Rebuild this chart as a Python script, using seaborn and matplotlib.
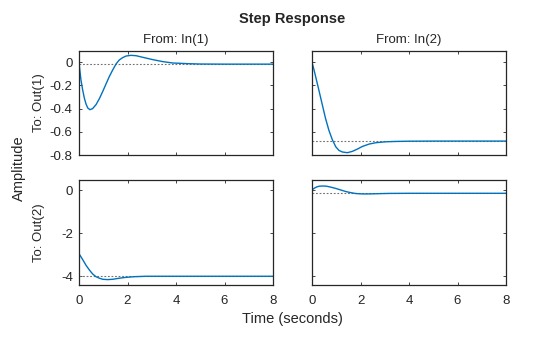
import matplotlib
matplotlib.use("Agg")
import matplotlib.pyplot as plt
import seaborn as sns
import pandas as pd

# ---- step response samples (time in seconds, amplitude) ----
inputs = ["In(1)", "In(2)"]
outputs = ["Out(1)", "Out(2)"]

t_out1_in1 = [0, 0.04, 0.08, 0.15, 0.22, 0.29, 0.36, 0.45, 0.56, 0.70, 0.84, 0.98,
              1.11, 1.25, 1.39, 1.53, 1.66, 1.80, 1.94, 2.14, 2.35, 2.63, 3.04,
              3.45, 3.86, 4.5, 5, 6, 7, 8]
y_out1_in1 = [0, -0.080, -0.151, -0.237, -0.309, -0.360, -0.394, -0.409, -0.400,
              -0.366, -0.314, -0.251, -0.189, -0.123, -0.066, -0.014, 0.020, 0.040,
              0.054, 0.060, 0.057, 0.043, 0.023, 0.006, -0.006, -0.012, -0.015,
              -0.016, -0.016, -0.016]

t_out1_in2 = [0, 0.07, 0.15, 0.29, 0.43, 0.56, 0.70, 0.84, 0.98, 1.11, 1.25, 1.46,
              1.66, 1.87, 2.08, 2.35, 2.63, 3.04, 3.45, 4, 5, 6, 7, 8]
y_out1_in2 = [0, -0.055, -0.123, -0.246, -0.371, -0.486, -0.589, -0.669, -0.729,
              -0.760, -0.774, -0.780, -0.769, -0.749, -0.726, -0.706, -0.694,
              -0.686, -0.683, -0.681, -0.680, -0.680, -0.680, -0.680]

t_out2_in1 = [0, 0.15, 0.29, 0.43, 0.56, 0.70, 0.84, 0.98, 1.18, 1.39, 1.66, 1.94,
              2.28, 2.76, 3.5, 4, 5, 6, 7, 8]
y_out2_in1 = [-2.95, -3.22, -3.49, -3.71, -3.89, -4.02, -4.09, -4.14, -4.155,
              -4.14, -4.09, -4.05, -4.02, -4.00, -4.00, -4.00, -4.00, -4.00,
              -4.00, -4.00]

t_out2_in2 = [0, 0.1, 0.2, 0.3, 0.45, 0.6, 0.8, 1.0, 1.2, 1.4, 1.6, 1.8, 2.0, 2.2,
              2.5, 2.8, 3.2, 4, 5, 6, 7, 8]
y_out2_in2 = [0.02, 0.10, 0.16, 0.19, 0.20, 0.19, 0.14, 0.08, 0.01, -0.06, -0.11,
              -0.15, -0.165, -0.17, -0.165, -0.155, -0.145, -0.14, -0.14, -0.14,
              -0.14, -0.14]

# steady-state values, one per input, for each output
steady_out1 = [-0.016, -0.68]
steady_out2 = [-4.0, -0.14]

x_ticks = [0, 2, 4, 6, 8]
x_tick_labels = ["0", "2", "4", "6", "8"]
y_ticks_out1 = [-0.8, -0.6, -0.4, -0.2, 0]
y_tick_labels_out1 = ["-0.8", "-0.6", "-0.4", "-0.2", "0"]
y_ticks_out2 = [-4, -2, 0]
y_tick_labels_out2 = ["-4", "-2", "0"]

frames = []
for out, inp, t, y in [("Out(1)", "In(1)", t_out1_in1, y_out1_in1),
                       ("Out(1)", "In(2)", t_out1_in2, y_out1_in2),
                       ("Out(2)", "In(1)", t_out2_in1, y_out2_in1),
                       ("Out(2)", "In(2)", t_out2_in2, y_out2_in2)]:
    frames.append(pd.DataFrame({"time": t, "amplitude": y, "output": out, "input": inp}))
data = pd.concat(frames, ignore_index=True)
steady = {("Out(1)", "In(1)"): steady_out1[0], ("Out(1)", "In(2)"): steady_out1[1],
          ("Out(2)", "In(1)"): steady_out2[0], ("Out(2)", "In(2)"): steady_out2[1]}

# ---- styling ----
sns.set_style("ticks")
plt.rcParams["font.family"] = ["Liberation Sans", "DejaVu Sans"]
plt.rcParams["axes.unicode_minus"] = False

W, H = 560, 337
fig = plt.figure(figsize=(W / 100, H / 100), dpi=100)
fig.patch.set_facecolor("white")


def px_box(x0, y0, x1, y1):
    return [x0 / W, 1 - y1 / H, (x1 - x0) / W, (y1 - y0) / H]


col_x = [(79, 273), (312, 506)]
row_y = [(50.7, 155), (180.3, 285.3)]
ylims = [(-0.8, 0.1), (-4.42, 0.465)]
yticks = [(y_ticks_out1, y_tick_labels_out1), (y_ticks_out2, y_tick_labels_out2)]

line_color = "#0072BD"
frame_color = "0.15"

for r, out in enumerate(outputs):
    for c, inp in enumerate(inputs):
        ax = fig.add_axes(px_box(col_x[c][0], row_y[r][0], col_x[c][1], row_y[r][1]))
        sub = data[(data["output"] == out) & (data["input"] == inp)]
        ax.axhline(steady[(out, inp)], color="0.45", lw=0.8,
                   linestyle=(0, (1.6, 1.6)), zorder=1)
        sns.lineplot(data=sub, x="time", y="amplitude", ax=ax, color=line_color,
                     lw=1.0, estimator=None, sort=False, zorder=2)
        ax.set_xlim(0, 8)
        ax.set_ylim(*ylims[r])
        ax.set_xticks(x_ticks)
        ax.set_yticks(yticks[r][0])
        if r == 1:
            ax.set_xticklabels(x_tick_labels)
        else:
            ax.set_xticklabels([])
        if c == 0:
            ax.set_yticklabels(yticks[r][1])
        else:
            ax.set_yticklabels([])
        ax.set_xlabel("")
        ax.set_ylabel("")
        ax.tick_params(direction="in", top=True, right=True, length=2.2, width=0.6,
                       color=frame_color, labelsize=9.5, labelcolor="0.15")
        ax.tick_params(axis="x", pad=7)
        ax.tick_params(axis="y", pad=4.5)
        for s in ax.spines.values():
            s.set_visible(True)
            s.set_linewidth(0.9)
            s.set_color(frame_color)


def put(x, y, s, **kw):
    fig.text(x / W, 1 - y / H, s, ha="center", va="center", color="0.15", **kw)


put(292.5, 18.5, "Step Response", fontsize=10.5, fontweight="bold")
put(176, 40, "From: In(1)", fontsize=9.5)
put(409, 40, "From: In(2)", fontsize=9.5)
put(39, 103, "To: Out(1)", fontsize=9.5, rotation=90)
put(39, 233, "To: Out(2)", fontsize=9.5, rotation=90)
put(18.5, 168, "Amplitude", fontsize=10.5, rotation=90)
put(292.5, 318.5, "Time (seconds)", fontsize=10.5)

fig.savefig("out.png", dpi=100, facecolor="white")
